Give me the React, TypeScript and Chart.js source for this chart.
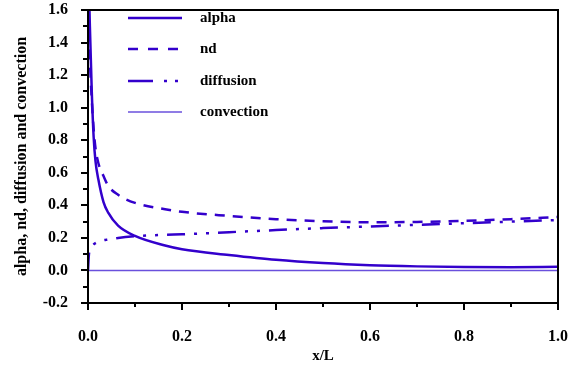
import React, { useEffect, useRef } from "react";
import { Chart, registerables } from "chart.js";

Chart.register(...registerables);

const xValues = [0, 0.002, 0.004, 0.008, 0.012, 0.016, 0.022, 0.033, 0.043, 0.064, 0.1, 0.164, 0.2, 0.3, 0.4, 0.5, 0.6, 0.7, 0.8, 0.9, 1.0];
const alpha = [2.2, 1.75, 1.5, 1.1, 0.82, 0.67, 0.56, 0.42, 0.355, 0.275, 0.212, 0.153, 0.13, 0.095, 0.065, 0.045, 0.032, 0.025, 0.021, 0.02, 0.022];
const nd = [1.8, 1.5, 1.3, 1.05, 0.87, 0.75, 0.66, 0.58, 0.52, 0.465, 0.415, 0.376, 0.36, 0.335, 0.315, 0.302, 0.296, 0.298, 0.305, 0.315, 0.328];
const diffusion = [0, 0.1, 0.12, 0.147, 0.16, 0.168, 0.176, 0.186, 0.19, 0.2, 0.21, 0.219, 0.222, 0.235, 0.248, 0.26, 0.27, 0.28, 0.29, 0.3, 0.31];
const convection = [0, 0, 0, 0, 0, 0, 0, 0, 0, 0, 0, 0, 0, 0, 0, 0, 0, 0, 0, 0, 0];
const seriesNames = ["alpha", "nd", "diffusion", "convection"];
const xTitle = "x/L";
const yTitle = "alpha, nd, diffusion and convection";

const MAIN = "#3300cc";
const LIGHT = "#6a50dc";
const FONT = "'Times New Roman', 'Liberation Serif', serif";

const pts = (ys: number[]) => xValues.map((x, i) => ({ x, y: ys[i] }));

const styles = [
  { color: MAIN, width: 2.5, dash: [] as number[] },
  { color: MAIN, width: 2.5, dash: [10, 8] },
  { color: MAIN, width: 2.5, dash: [18, 9, 3, 9, 3, 9] },
  { color: LIGHT, width: 1.5, dash: [] as number[] },
];
const legendDash = [[] as number[], [10, 10], [25, 11, 3, 8, 3, 20], [] as number[]];

const framePlugin = {
  id: "frame",
  afterDatasetsDraw(chart: any) {
    const { ctx, chartArea: a, scales } = chart;
    const xs = scales.x;
    const ys = scales.y;
    ctx.save();
    ctx.strokeStyle = "#000";
    ctx.lineWidth = 2;
    ctx.strokeRect(a.left, a.top, a.right - a.left, a.bottom - a.top);
    for (let v = -2; v <= 16; v++) {
      const y = Math.round(ys.getPixelForValue(v / 10));
      const len = v % 2 === 0 ? 7 : 5;
      ctx.beginPath();
      ctx.moveTo(a.left - len, y);
      ctx.lineTo(a.left, y);
      ctx.stroke();
    }
    for (let v = 0; v <= 10; v++) {
      const x = Math.round(xs.getPixelForValue(v / 10));
      const len = v % 2 === 0 ? 7 : 4;
      ctx.beginPath();
      ctx.moveTo(x, a.bottom);
      ctx.lineTo(x, a.bottom + len);
      ctx.stroke();
    }
    const rows = [18, 49, 81, 112];
    ctx.font = `bold 15px ${FONT}`;
    ctx.textBaseline = "middle";
    ctx.textAlign = "left";
    seriesNames.forEach((name, i) => {
      const s = styles[i];
      ctx.strokeStyle = s.color;
      ctx.lineWidth = s.width;
      ctx.setLineDash(legendDash[i]);
      ctx.beginPath();
      ctx.moveTo(128, rows[i]);
      ctx.lineTo(182, rows[i]);
      ctx.stroke();
      ctx.setLineDash([]);
      ctx.fillStyle = "#000";
      ctx.fillText(name, 200, rows[i]);
    });
    ctx.restore();
  },
};

export default function App() {
  const ref = useRef<HTMLCanvasElement | null>(null);
  useEffect(() => {
    document.body.style.margin = "0";
    const data = [alpha, nd, diffusion, convection];
    const chart = new Chart(ref.current!, {
      type: "line",
      data: {
        datasets: data.map((d, i) => ({
          label: seriesNames[i],
          data: pts(d),
          borderColor: styles[i].color,
          borderWidth: styles[i].width,
          borderDash: styles[i].dash,
          pointRadius: 0,
          cubicInterpolationMode: "monotone" as const,
          fill: false,
        })),
      },
      options: {
        animation: false,
        responsive: false,
        maintainAspectRatio: false,
        layout: { padding: { top: 10, right: 13, left: 0, bottom: 0 } },
        plugins: { legend: { display: false }, tooltip: { enabled: false } },
        scales: {
          x: {
            type: "linear",
            min: 0,
            max: 1,
            grid: { display: false, drawTicks: false },
            border: { display: false },
            ticks: {
              stepSize: 0.2,
              padding: 24,
              color: "#000",
              font: { family: FONT, size: 16, weight: "bold" },
              callback: (v: any) => Number(v).toFixed(1),
            },
            title: {
              display: true,
              text: xTitle,
              color: "#000",
              font: { family: FONT, size: 15, weight: "bold" },
              padding: { top: 0, bottom: 9 },
            },
            afterFit: (s: any) => {
              s.height = 71;
              s.paddingLeft = 0;
              s.paddingRight = 0;
            },
          },
          y: {
            type: "linear",
            min: -0.2,
            max: 1.6,
            grid: { display: false, drawTicks: false },
            border: { display: false },
            ticks: {
              stepSize: 0.2,
              padding: 20,
              color: "#000",
              font: { family: FONT, size: 16, weight: "bold" },
              callback: (v: any) => Number(v).toFixed(1),
            },
            title: {
              display: true,
              text: yTitle,
              color: "#000",
              font: { family: FONT, size: 16, weight: "bold" },
              padding: { top: 12, bottom: 0 },
            },
            afterFit: (s: any) => {
              s.width = 88;
              s.paddingTop = 0;
              s.paddingBottom = 0;
            },
          },
        },
      },
      plugins: [framePlugin],
    });
    return () => chart.destroy();
  }, []);
  return (
    <div style={{ position: "absolute", left: 0, top: 0, width: 571, height: 374, background: "#fff" }}>
      <canvas ref={ref} width={571} height={374} style={{ width: 571, height: 374 }} />
    </div>
  );
}
